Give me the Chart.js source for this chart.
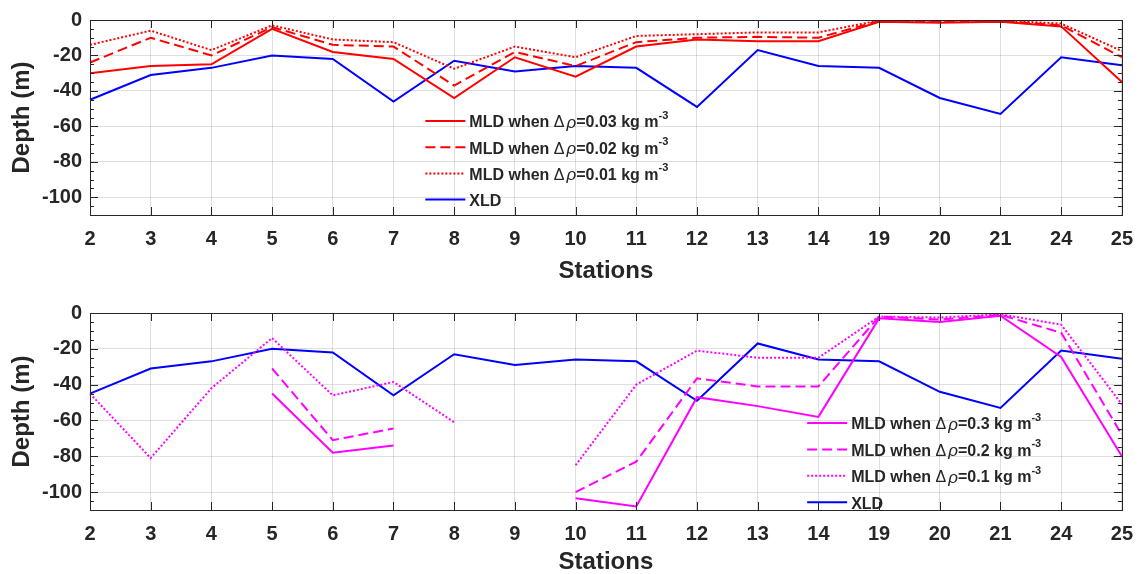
<!DOCTYPE html>
<html>
<head>
<meta charset="utf-8">
<script src="https://cdn.jsdelivr.net/npm/chart.js@4.4.1/dist/chart.umd.min.js"></script>
<style>
body { margin: 0; background: #fff; }
.box { position: absolute; left: 0; width: 1145px; height: 287px; }
</style>
</head>
<body>
<div class="box" style="top:0"><canvas id="chart1"></canvas></div>
<div class="box" style="top:287px"><canvas id="chart2"></canvas></div>
<script>
var stations = ['2', '3', '4', '5', '6', '7', '8', '9', '10', '11', '12', '13', '14', '19', '20', '21', '24', '25'];
var depthTicks = [0, -20, -40, -60, -80, -100];

var xld = [-45, -31, -27, -20, -22, -46, -23, -29, -26, -27, -49, -17, -26, -27, -44, -53, -21, -25.5];

// top panel: small density thresholds
var mld003 = [-30, -26, -25, -5, -18, -22, -44, -21, -32, -15, -11, -12, -12, -1, -1.5, -1, -3.6, -35];
var mld002 = [-24, -10, -20, -4, -14, -15, -37, -18, -26, -12.5, -10, -9.5, -10, -0.5, -1, -0.5, -3, -21];
var mld001 = [-14, -6, -17, -3, -11, -12.5, -27.5, -15, -21, -9, -8, -7, -7, -0.3, -0.5, -0.3, -2, -17.5];

// bottom panel: large density thresholds (gaps where no MLD found)
var mld03 = [null, null, null, -45, -78, -74, null, null, -103.5, -108, -47, -52, -58, -3, -5, -1.5, -24.5, -80];
var mld02 = [null, null, null, -31, -71, -64.5, null, null, -100, -83, -36.5, -41, -41, -2, -3.7, -1, -11, -68];
var mld01 = [-45, -81, -42, -14, -46, -38.5, -61, null, -85, -40, -21, -25, -25, -2, -2.5, -0.7, -6.5, -51];

var RED = '#ff0000', BLUE = '#0000ff', MAG = '#ff00ff';
var AXIS = '#262626';
var FONT = "'Liberation Sans', Arial, sans-serif";

function line(label, values, color, dash) {
  return {
    label: label,
    data: values,
    borderColor: color,
    backgroundColor: color,
    borderWidth: 2,
    borderDash: dash,
    pointRadius: 0,
    tension: 0,
    spanGaps: false
  };
}

// axes box with inward ticks, like the original
var framePlugin = {
  id: 'frame',
  afterDatasetsDraw: function (chart) {
    var ctx = chart.ctx, a = chart.chartArea;
    var x = chart.scales.x, y = chart.scales.y;
    ctx.save();
    ctx.strokeStyle = AXIS;
    ctx.lineWidth = 1;
    ctx.beginPath();
    stations.forEach(function (s, i) {
      var px = Math.round(x.getPixelForValue(i)) + 0.5;
      ctx.moveTo(px, a.bottom); ctx.lineTo(px, a.bottom - 8);
      ctx.moveTo(px, a.top); ctx.lineTo(px, a.top + 8);
    });
    for (var v = 0; v >= -110; v -= 5) {
      var py = Math.round(y.getPixelForValue(v)) + 0.5;
      var len = (v % 20 === 0) ? 8 : 4;
      ctx.moveTo(a.left, py); ctx.lineTo(a.left + len, py);
      ctx.moveTo(a.right, py); ctx.lineTo(a.right - len, py);
    }
    ctx.stroke();
    ctx.strokeRect(Math.round(a.left) + 0.5, Math.round(a.top) + 0.5,
      Math.round(a.right - a.left), Math.round(a.bottom - a.top));
    ctx.restore();
  }
};

// legend drawn inside the plot area
function drawRich(ctx, text, x, y) {
  var parts = text.split(/(Δ|ρ|\^\{[^}]*\})/).filter(function (p) { return p; });
  parts.forEach(function (p) {
    var sup = false;
    if (p === 'Δ') ctx.font = '16px ' + FONT;
    else if (p === 'ρ') ctx.font = 'italic 17px ' + FONT;
    else if (p.charAt(0) === '^') { sup = true; p = p.slice(2, -1); ctx.font = 'bold 11px ' + FONT; }
    else ctx.font = 'bold 16px ' + FONT;
    ctx.fillText(p, x, sup ? y - 7 : y);
    x += ctx.measureText(p).width + (p === 'Δ' ? 2 : 0);
  });
}

var legendPlugin = {
  id: 'inlegend',
  afterDraw: function (chart, args, opts) {
    var ctx = chart.ctx, a = chart.chartArea;
    var x0 = a.left + opts.left * (a.right - a.left);
    ctx.save();
    ctx.textBaseline = 'middle';
    chart.data.datasets.forEach(function (ds, i) {
      var yy = a.top + opts.top + i * opts.step;
      ctx.strokeStyle = ds.borderColor;
      ctx.lineWidth = 2;
      ctx.setLineDash(ds.borderDash || []);
      ctx.beginPath();
      ctx.moveTo(x0, yy); ctx.lineTo(x0 + 40, yy);
      ctx.stroke();
      ctx.setLineDash([]);
      ctx.fillStyle = AXIS;
      drawRich(ctx, ds.label, x0 + 44, yy + 2);
    });
    ctx.restore();
  }
};

function config(datasets, xHeight, padTop, titlePad, legendPos) {
  return {
    type: 'line',
    data: { labels: stations, datasets: datasets },
    options: {
      responsive: true,
      maintainAspectRatio: false,
      animation: false,
      layout: { padding: { left: 0, right: 23, top: padTop, bottom: 0 } },
      scales: {
        x: {
          type: 'category',
          offset: false,
          grid: { color: 'rgba(38,38,38,0.15)', drawTicks: false, offset: false },
          border: { display: false },
          ticks: { color: AXIS, font: { family: FONT, size: 20, weight: 'bold' }, padding: 12, maxRotation: 0, autoSkip: false },
          title: { display: true, text: 'Stations', color: AXIS, font: { family: FONT, size: 24, weight: 'bold' }, padding: { top: 0, bottom: titlePad } },
          afterFit: function (s) { s.height = xHeight; }
        },
        y: {
          min: -110,
          max: 0,
          grid: { color: 'rgba(38,38,38,0.15)', drawTicks: false },
          border: { display: false },
          afterBuildTicks: function (s) { s.ticks = depthTicks.map(function (v) { return { value: v }; }); },
          ticks: { color: AXIS, font: { family: FONT, size: 20, weight: 'bold' }, padding: 8 },
          title: { display: true, text: 'Depth (m)', color: AXIS, font: { family: FONT, size: 24, weight: 'bold' }, padding: { top: 8, bottom: 0 } },
          afterFit: function (s) { s.width = 90; }
        }
      },
      plugins: {
        legend: { display: false },
        tooltip: { enabled: false },
        inlegend: legendPos
      }
    },
    plugins: [framePlugin, legendPlugin]
  };
}

new Chart(document.getElementById('chart1'), config([
  line('MLD when Δρ=0.03 kg m^{-3}', mld003, RED, []),
  line('MLD when Δρ=0.02 kg m^{-3}', mld002, RED, [10, 5]),
  line('MLD when Δρ=0.01 kg m^{-3}', mld001, RED, [2, 2]),
  line('XLD', xld, BLUE, [])
], 72, 17, 1, { left: 0.325, top: 101, step: 26.2 }));

new Chart(document.getElementById('chart2'), config([
  line('MLD when Δρ=0.3 kg m^{-3}', mld03, MAG, []),
  line('MLD when Δρ=0.2 kg m^{-3}', mld02, MAG, [10, 5]),
  line('MLD when Δρ=0.1 kg m^{-3}', mld01, MAG, [2, 2]),
  line('XLD', xld, BLUE, [])
], 64, 26, -3, { left: 0.695, top: 110, step: 26.4 }));
</script>
</body>
</html>
